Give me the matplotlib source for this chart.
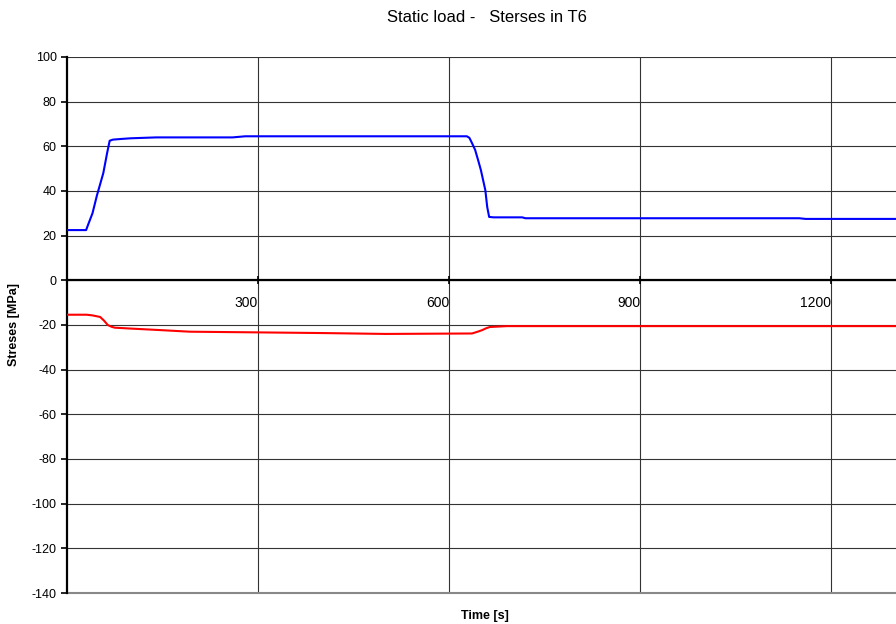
"""
Static load - stresses in T6, two stress traces over time.
"""

import matplotlib
matplotlib.use("Agg")
import matplotlib.pyplot as plt

# values
t_upper = [0, 30, 33, 40, 47, 57, 63, 67, 72, 85, 100, 140, 260, 280,
           628, 632, 636, 641, 646, 650, 657, 660, 663, 670, 715, 720,
           1150, 1160, 1302]
s_upper = [22.5, 22.5, 24.8, 30, 38, 48, 57, 62.5, 63.0, 63.3, 63.6, 64.0,
           64.0, 64.5, 64.5, 63.8, 61.5, 58.4, 53.5, 49.4, 40.4, 32.8, 28.4,
           28.2, 28.2, 27.8, 27.8, 27.5, 27.5]

t_lower = [0, 31, 40, 52, 58, 64, 70, 75, 100, 141, 193, 298, 400, 500,
           636, 645, 652, 658, 664, 691, 1302]
s_lower = [-15.4, -15.4, -15.7, -16.4, -18.0, -20.0, -20.8, -21.2, -21.6,
           -22.2, -23.0, -23.3, -23.6, -24.0, -23.8, -23.0, -22.3, -21.5,
           -20.9, -20.5, -20.5]

x_ticks = [300, 600, 900, 1200]
y_ticks = list(range(-140, 101, 20))

plt.rcParams["font.family"] = ["Liberation Sans", "DejaVu Sans"]
plt.rcParams["axes.unicode_minus"] = False

fig = plt.figure(figsize=(8.96, 6.24), dpi=100)
ax = fig.add_axes([67 / 896, 1 - 593 / 624, 1 - 67 / 896, (593 - 57) / 624])

ax.plot(t_upper, s_upper, color="#0000ff", lw=1.5, zorder=3)
ax.plot(t_lower, s_lower, color="#ff0000", lw=1.5, zorder=3)

ax.set_xlim(0, 1302)
ax.set_ylim(-140, 100)
ax.set_xticks(x_ticks)
ax.set_yticks(y_ticks)

ax.grid(True, color="#333333", lw=0.8)
ax.axhline(-140, color="#888888", lw=1.5, clip_on=False, zorder=1)
ax.set_axisbelow(True)

ax.spines["right"].set_visible(False)
ax.spines["top"].set_visible(False)
ax.spines["bottom"].set_position(("data", 0))
ax.spines["bottom"].set_linewidth(1.6)
ax.spines["left"].set_linewidth(1.6)

ax.tick_params(axis="x", direction="inout", length=6, width=1.2, pad=8,
               labelsize=10)
ax.tick_params(axis="y", direction="out", length=4, width=1.2, labelsize=9)

# x labels sit left of their tick, as in the original sheet
for tick in ax.xaxis.get_major_ticks():
    tick.label1.set_horizontalalignment("right")

ax.set_ylabel("Streses [MPa]", fontsize=9, fontweight="bold", labelpad=8)
fig.text(485 / 896, 1 - 616 / 624, "Time [s]", fontsize=9,
         fontweight="bold", ha="center", va="center")
fig.text(487 / 896, 1 - 18 / 624, "Static load -   Sterses in T6",
         fontsize=12, ha="center", va="center")

fig.savefig("out.png", dpi=100)
